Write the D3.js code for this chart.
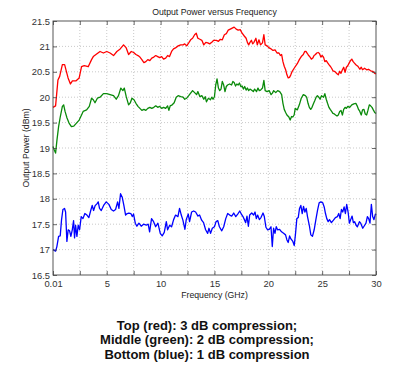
<!DOCTYPE html>
<html>
<head>
<meta charset="utf-8">
<script src="https://cdn.jsdelivr.net/npm/d3@7"></script>
<style>
  body { margin: 0; background: #fff; }
  svg { display: block; font-family: "Liberation Sans", Arial, sans-serif; }
</style>
</head>
<body>
<div id="chart"></div>
<script>
// chart data: [frequency GHz, output power dBm]
var redTrace = [
  [0.01,19.80],[0.25,19.83],[0.47,20.34],[0.63,20.41],[0.88,20.64],[1.09,20.64],[1.25,20.51],[1.41,20.38],
  [1.63,20.26],[1.81,20.32],[2.13,20.32],[2.44,20.38],[2.66,20.60],[2.91,20.62],[3.28,20.60],[3.59,20.74],
  [3.75,20.80],[4.06,20.85],[4.38,20.90],[4.69,20.87],[5.00,20.90],[5.31,20.87],[5.63,20.82],[5.94,20.90],
  [6.25,20.95],[6.56,21.03],[6.81,20.97],[7.03,20.84],[7.28,20.90],
  [7.50,20.88],[7.71,20.84],[7.90,20.82],[8.08,20.79],[8.26,20.74],[8.45,20.68],[8.63,20.70],[8.81,20.74],
  [9.00,20.72],[9.18,20.77],[9.37,20.79],[9.55,20.82],[9.73,20.80],[9.92,20.78],[10.10,20.80],[10.28,20.75],
  [10.47,20.77],[10.65,20.82],[10.83,20.80],[11.02,20.90],[11.20,20.95],[11.38,20.97],[11.63,21.01],[11.87,21.03],
  [12.09,21.03],[12.24,21.05],[12.42,21.01],[12.61,21.07],[12.79,21.13],[12.97,21.16],[13.16,21.23],[13.31,21.26],
  [13.46,21.16],[13.65,21.14],[13.83,21.12],[14.01,21.03],[14.20,21.08],[14.38,21.07],[14.56,21.05],[14.75,21.08],
  [14.93,21.12],
  [15.18,21.12],[15.37,21.10],[15.55,21.14],[15.73,21.13],[15.92,21.23],[16.10,21.25],[16.28,21.32],[16.47,21.34],
  [16.65,21.36],[16.83,21.38],[17.02,21.34],[17.20,21.32],[17.39,21.33],[17.57,21.26],[17.75,21.21],[17.94,21.16],
  [18.06,21.08],[18.18,21.03],[18.30,21.08],[18.43,21.12],[18.55,21.05],[18.67,21.08],[18.85,21.16],[18.98,21.03],
  [19.13,21.13],[19.28,21.03],[19.46,21.07],[19.59,21.23],[19.71,21.03],[19.89,21.01],[20.08,20.97],[20.26,20.95],
  [20.44,20.92],[20.63,20.93],[20.81,20.87],[20.99,20.87],[21.12,20.82],[21.24,20.84],[21.36,20.70],[21.48,20.61],
  [21.61,20.54],[21.73,20.44],[21.85,20.38],[21.97,20.39],[22.09,20.44],[22.22,20.51],[22.40,20.57],
  [22.69,20.66],[22.88,20.74],[23.06,20.80],[23.25,20.84],[23.38,20.90],[23.50,20.90],[23.63,20.86],[23.75,20.82],
  [23.88,20.79],[24.00,20.75],[24.13,20.77],[24.25,20.82],[24.38,20.84],[24.50,20.87],[24.63,20.88],[24.75,20.86],
  [24.88,20.79],[25.00,20.82],[25.13,20.79],[25.25,20.70],[25.38,20.72],[25.50,20.68],[25.63,20.64],[25.75,20.61],
  [25.88,20.57],[26.00,20.52],[26.13,20.51],[26.25,20.49],[26.38,20.46],[26.50,20.44],[26.63,20.51],[26.75,20.47],
  [26.88,20.54],[27.00,20.59],[27.13,20.49],[27.25,20.59],[27.38,20.62],[27.50,20.67],[27.63,20.72],[27.75,20.75],
  [27.88,20.70],[28.00,20.67],[28.13,20.64],[28.31,20.61],[28.50,20.55],[28.63,20.59],[28.75,20.54],[28.94,20.57],
  [29.13,20.54],[29.31,20.55],[29.50,20.52],[29.69,20.51],[29.88,20.47],[30.00,20.46]
];

var greenTrace = [
  [0.01,19.03],[0.13,18.96],[0.25,18.90],[0.38,19.16],[0.53,19.42],[0.69,19.62],[0.88,19.82],[1.00,19.85],
  [1.13,19.72],[1.31,19.59],[1.50,19.49],[1.72,19.42],[1.94,19.43],[2.19,19.49],[2.44,19.55],[2.66,19.65],
  [2.81,19.72],[3.13,19.75],[3.38,19.82],[3.59,19.98],[3.75,19.95],[3.91,19.89],[4.13,19.98],[4.38,20.00],
  [4.69,20.07],[5.00,20.07],[5.31,20.05],[5.63,20.03],[5.88,19.96],[6.09,20.03],[6.31,20.18],[6.50,20.13],
  [6.63,20.18],[6.81,20.01],[7.03,19.85],[7.19,19.89],[7.34,19.98],
  [7.53,19.95],[7.71,19.88],[7.90,19.82],[8.08,19.78],[8.26,19.74],[8.45,19.76],[8.63,19.74],[8.81,19.78],
  [9.00,19.80],[9.18,19.78],[9.37,19.80],[9.55,19.83],[9.73,19.80],[9.92,19.82],[10.10,19.78],[10.28,19.80],
  [10.47,19.78],[10.65,19.83],[10.77,19.74],[10.89,19.83],[11.08,19.85],[11.26,19.89],[11.45,20.00],[11.63,20.03],
  [11.87,20.01],[12.09,20.00],[12.24,19.96],[12.42,19.98],[12.61,20.03],[12.79,20.08],[12.97,20.13],[13.16,20.09],
  [13.34,20.05],[13.46,20.11],[13.65,20.01],[13.83,20.03],[14.01,19.96],[14.14,20.01],[14.26,19.91],[14.44,19.98],
  [14.63,19.95],[14.75,20.00],[14.87,19.96],
  [15.00,20.01],[15.12,20.24],[15.24,20.36],[15.37,20.18],[15.49,20.13],[15.61,20.16],[15.73,20.31],[15.86,20.24],
  [15.98,20.11],[16.10,20.21],[16.22,20.24],[16.41,20.26],[16.59,20.24],[16.71,20.31],[16.83,20.29],[16.96,20.22],
  [17.08,20.26],[17.20,20.24],[17.32,20.28],[17.45,20.21],[17.57,20.22],[17.69,20.16],[17.81,20.21],[17.94,20.14],
  [18.06,20.18],[18.18,20.13],[18.30,20.16],[18.49,20.13],[18.61,20.11],[18.73,20.16],[18.91,20.11],[19.04,20.18],
  [19.16,20.13],[19.28,20.14],[19.46,20.18],[19.59,20.33],[19.71,20.13],[19.89,20.11],[20.08,20.13],[20.26,20.05],
  [20.38,20.08],[20.50,20.13],[20.69,20.09],[20.87,20.13],[21.06,20.11],[21.24,20.05],[21.36,19.88],[21.48,19.76],
  [21.61,19.70],[21.73,19.65],[21.91,19.61],[22.03,19.55],[22.16,19.62],[22.28,19.61],[22.40,19.65],
  [22.50,19.78],[22.69,19.75],[22.88,19.85],[23.06,19.98],[23.25,20.05],[23.44,20.03],[23.56,20.00],[23.69,19.88],
  [23.81,19.80],[23.94,19.76],[24.06,19.80],[24.19,19.87],[24.31,19.93],[24.44,20.00],[24.56,20.03],[24.69,20.00],
  [24.81,19.96],[24.94,20.03],[25.13,20.00],[25.25,20.07],[25.38,19.96],[25.50,19.88],[25.63,19.80],[25.75,19.76],
  [25.88,19.72],[26.00,19.68],[26.13,19.67],[26.25,19.65],[26.38,19.63],[26.50,19.65],[26.63,19.72],[26.75,19.74],
  [26.88,19.65],[27.00,19.76],[27.13,19.80],[27.25,19.78],[27.38,19.82],[27.56,19.80],[27.75,19.85],[27.94,19.87],
  [28.13,19.88],[28.25,19.83],[28.38,19.76],[28.50,19.72],[28.63,19.65],[28.75,19.75],[28.88,19.76],[29.00,19.67],
  [29.13,19.65],[29.25,19.74],[29.38,19.85],[29.50,19.83],[29.63,19.80],[29.75,19.75],[29.88,19.70],[30.00,19.68]
];

var blueTrace = [
  [0.01,17.00],[0.25,16.97],[0.37,17.06],[0.53,17.26],[0.68,17.27],[0.80,17.58],[0.93,17.79],[1.08,17.81],
  [1.18,17.74],[1.30,17.16],[1.42,17.39],[1.55,17.37],[1.67,17.26],[1.80,17.39],[1.92,17.57],[2.01,17.23],
  [2.11,17.48],[2.23,17.26],[2.35,17.48],[2.48,17.39],[2.63,17.65],[2.79,17.61],[2.97,17.71],[3.16,17.68],
  [3.34,17.63],[3.50,17.76],[3.65,17.87],[3.78,17.77],[3.93,17.87],[4.09,17.90],[4.21,17.94],[4.33,17.81],
  [4.49,17.77],[4.71,17.87],[4.95,17.94],[5.20,17.89],[5.42,17.79],[5.63,17.76],[5.82,17.79],[6.01,17.94],
  [6.13,17.81],[6.28,18.10],[6.44,18.03],[6.59,17.87],[6.75,17.68],[6.90,17.71],[7.06,17.72],[7.24,17.71],
  [7.37,17.65],[7.49,17.70],[7.65,17.52],[7.80,17.46],[7.99,17.52],[8.20,17.46],[8.42,17.50],[8.67,17.48],
  [8.85,17.50],[8.98,17.35],[9.16,17.61],[9.35,17.55],[9.54,17.45],[9.75,17.52],[9.97,17.32],[10.15,17.27],
  [10.34,17.34],[10.53,17.55],[10.65,17.39],[10.84,17.48],[11.02,17.45],[11.21,17.59],[11.39,17.68],[11.61,17.65],
  [11.76,17.81],[11.92,17.68],[12.07,17.58],[12.26,17.40],[12.38,17.59],[12.57,17.70],[12.69,17.55],[12.88,17.74],
  [13.07,17.76],[13.25,17.74],[13.47,17.66],[13.62,17.68],[13.81,17.58],[13.99,17.53],[14.18,17.39],[14.37,17.32],
  [14.49,17.42],[14.64,17.32],[14.80,17.42],
  [15.00,17.45],[15.15,17.55],[15.31,17.57],[15.46,17.45],[15.68,17.37],[15.86,17.45],[16.05,17.61],[16.23,17.71],
  [16.42,17.68],[16.60,17.66],[16.79,17.72],[16.98,17.65],[17.16,17.70],[17.35,17.76],[17.47,17.71],[17.65,17.65],
  [17.78,17.59],[17.90,17.53],[18.02,17.66],[18.15,17.46],[18.27,17.68],[18.46,17.72],[18.64,17.68],[18.77,17.74],
  [18.89,17.61],[19.01,17.68],[19.17,17.59],[19.32,17.63],[19.51,17.72],[19.63,17.65],[19.78,17.44],[19.94,17.39],
  [20.09,17.40],[20.25,17.45],[20.37,17.06],[20.49,17.42],[20.62,17.32],[20.74,17.45],[20.86,17.39],[21.05,17.40],
  [21.23,17.35],[21.42,17.32],[21.60,17.29],[21.73,17.19],[21.85,17.14],[21.98,17.27],[22.10,17.21],[22.28,17.16],
  [22.41,17.08],[22.53,17.32],[22.65,17.61],[22.78,17.63],[22.90,17.81],[23.02,17.87],[23.15,17.71],[23.27,17.85],
  [23.40,17.74],[23.52,17.81],[23.64,17.65],[23.83,17.45],[23.95,17.29],[24.10,17.26],[24.26,17.39],[24.41,17.58],
  [24.57,17.77],[24.72,17.92],[24.88,17.94],[25.06,17.92],[25.19,17.84],[25.31,17.71],[25.43,17.61],[25.56,17.55],
  [25.68,17.59],[25.86,17.53],[26.05,17.58],[26.23,17.63],[26.42,17.65],[26.54,17.71],[26.67,17.61],[26.79,17.79],
  [26.91,17.74],[27.04,17.84],[27.16,17.71],[27.28,17.89],[27.41,17.74],[27.53,17.52],[27.65,17.59],[27.78,17.66],
  [27.90,17.53],[28.02,17.55],[28.15,17.48],[28.27,17.45],[28.46,17.55],[28.58,17.52],[28.77,17.42],[28.89,17.46],
  [29.07,17.52],[29.20,17.65],[29.32,17.61],[29.44,17.52],[29.57,17.89],[29.69,17.65],[29.81,17.59],[29.94,17.70],
  [30.00,17.68]
];

var xTickValues = [0.01, 2.5, 5, 7.5, 10, 12.5, 15, 17.5, 20, 22.5, 25, 27.5, 30];
var xTickLabels = ["0.01", "", "5", "", "10", "", "15", "", "20", "", "25", "", "30"];
var yTickValues = [16.5, 17, 17.5, 18, 18.5, 19, 19.5, 20, 20.5, 21, 21.5];
var yTickLabels = ["16.5", "17", "17.5", "18", "18.5", "19", "19.5", "20", "20.5", "21", "21.5"];

var captionLines = [
  "Top (red): 3 dB compression;",
  "Middle (green): 2 dB compression;",
  "Bottom (blue): 1 dB compression"
];

var width = 394,
    height = 370;
var margin = {top: 21, right: 18, bottom: 95, left: 53};
var plotW = width - margin.left - margin.right,
    plotH = height - margin.top - margin.bottom;

var svg = d3.select("#chart")
  .append("svg")
  .attr("width", width)
  .attr("height", height);

var x = d3.scaleLinear().domain([0.01, 30]).range([0, plotW]);
var y = d3.scaleLinear().domain([16.5, 21.5]).range([plotH, 0]);

var g = svg.append("g")
  .attr("transform", "translate(" + margin.left + "," + margin.top + ")");

// grid, dotted like matlab
g.append("g").selectAll("line.vg")
  .data(xTickValues.slice(1, -1))
  .enter().append("line")
  .attr("x1", d => x(d)).attr("x2", d => x(d))
  .attr("y1", 0).attr("y2", plotH)
  .attr("stroke", "#bbb").attr("stroke-width", 0.8)
  .attr("stroke-dasharray", "1,2");

g.append("g").selectAll("line.hg")
  .data(yTickValues.slice(1, -1))
  .enter().append("line")
  .attr("x1", 0).attr("x2", plotW)
  .attr("y1", d => y(d)).attr("y2", d => y(d))
  .attr("stroke", "#bbb").attr("stroke-width", 0.8)
  .attr("stroke-dasharray", "1,2");

// the traces
var line = d3.line()
  .x(d => x(d[0]))
  .y(d => y(d[1]));

var traces = [
  {data: redTrace, color: "#ff0000"},
  {data: greenTrace, color: "#0a8a0a"},
  {data: blueTrace, color: "#0000ff"}
];

g.selectAll("path.trace")
  .data(traces)
  .enter().append("path")
  .attr("class", "trace")
  .attr("d", d => line(d.data))
  .attr("fill", "none")
  .attr("stroke", d => d.color)
  .attr("stroke-width", 1.3)
  .attr("stroke-linejoin", "round");

// axes with inner ticks
var xAxis = d3.axisBottom(x)
  .tickValues(xTickValues)
  .tickFormat((d, i) => xTickLabels[i])
  .tickSizeInner(-4).tickSizeOuter(0).tickPadding(5);
var yAxis = d3.axisLeft(y)
  .tickValues(yTickValues)
  .tickFormat((d, i) => yTickLabels[i])
  .tickSizeInner(-4).tickSizeOuter(0).tickPadding(3);

var gx = g.append("g")
  .attr("transform", "translate(0," + plotH + ")")
  .call(xAxis);
var gy = g.append("g").call(yAxis);

g.append("g").call(d3.axisTop(x).tickValues(xTickValues).tickFormat("").tickSizeInner(-4).tickSizeOuter(0));
g.append("g").attr("transform", "translate(" + plotW + ",0)")
  .call(d3.axisRight(y).tickValues(yTickValues).tickFormat("").tickSizeInner(-4).tickSizeOuter(0));

g.selectAll(".domain").remove();
g.selectAll(".tick line").attr("stroke", "#444").attr("stroke-width", 0.8);
[gx, gy].forEach(a => a.selectAll("text")
  .attr("fill", "#333")
  .style("font-size", "9.4px"));

g.append("rect")
  .attr("width", plotW).attr("height", plotH)
  .attr("fill", "none").attr("stroke", "#444").attr("stroke-width", 0.9);

// titles
svg.append("text")
  .attr("x", margin.left + plotW / 2).attr("y", 14.5)
  .attr("text-anchor", "middle")
  .style("font-size", "8.7px").attr("fill", "#222")
  .text("Output Power versus Frequency");

svg.append("text")
  .attr("x", margin.left + plotW / 2).attr("y", 297.5)
  .attr("text-anchor", "middle")
  .style("font-size", "8.7px").attr("fill", "#222")
  .text("Frequency (GHz)");

svg.append("text")
  .attr("transform", "translate(29," + (margin.top + plotH / 2) + ") rotate(-90)")
  .attr("text-anchor", "middle")
  .style("font-size", "8.7px").attr("fill", "#222")
  .text("Output Power (dBm)");

// caption under the chart
svg.append("g").selectAll("text")
  .data(captionLines)
  .enter().append("text")
  .attr("x", 207)
  .attr("y", (d, i) => 329.5 + i * 14.8)
  .attr("text-anchor", "middle")
  .style("font-size", "13px").style("font-weight", "bold")
  .attr("fill", "#111")
  .text(d => d);
</script>
</body>
</html>
